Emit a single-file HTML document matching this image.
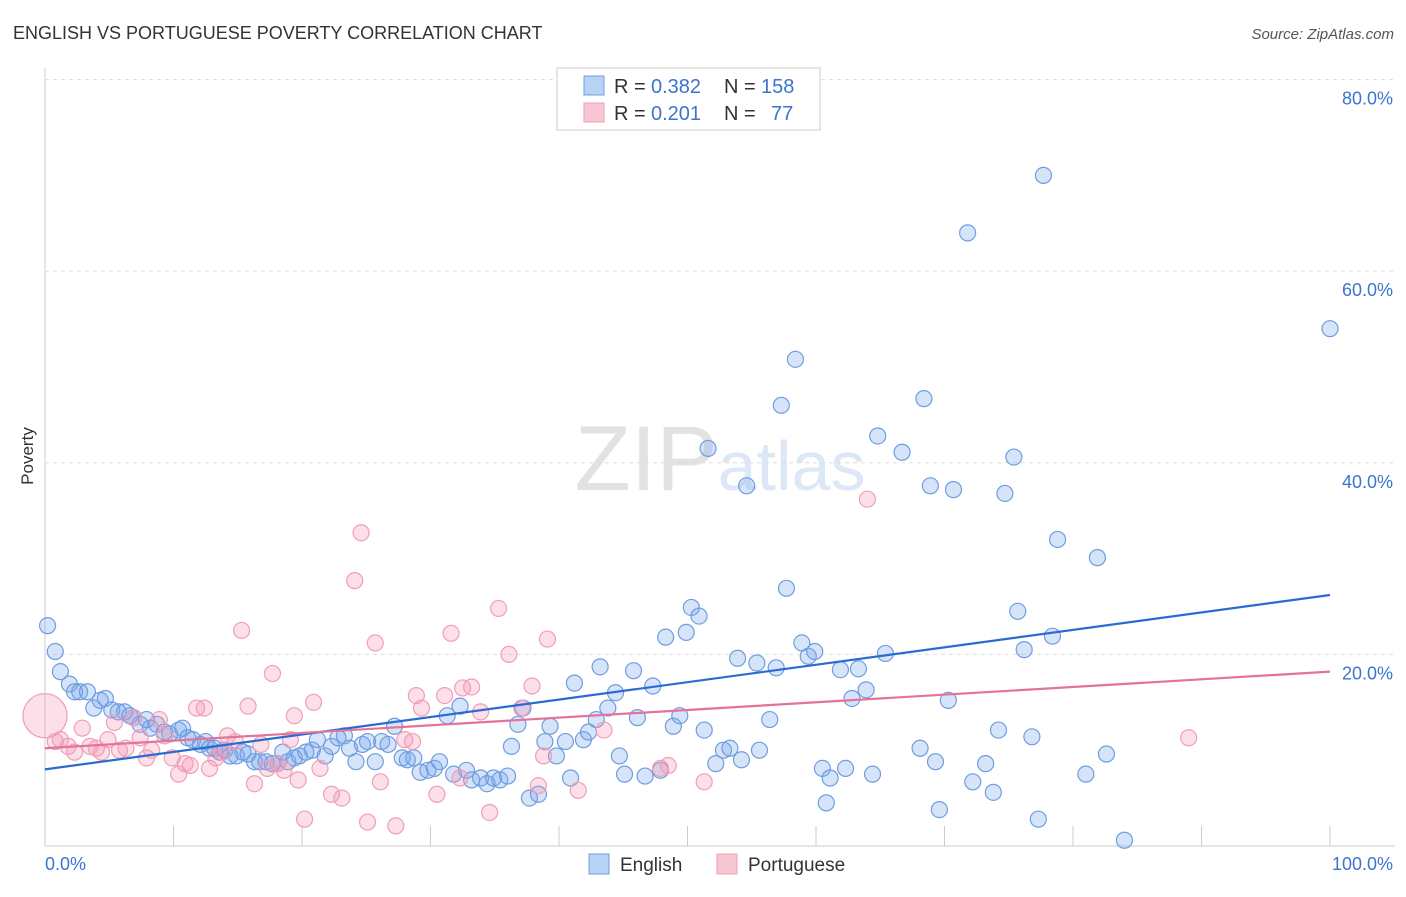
<!DOCTYPE html>
<html><head><meta charset="utf-8"><style>
body{margin:0;background:#fff;font-family:"Liberation Sans",sans-serif;}
svg text{font-family:"Liberation Sans",sans-serif;}
</style></head><body>
<svg id="chart" width="1406" height="892" xmlns="http://www.w3.org/2000/svg">
<text x="13" y="39" font-size="18" fill="#333">ENGLISH VS PORTUGUESE POVERTY CORRELATION CHART</text>
<text x="1394" y="39" font-size="15" fill="#555" text-anchor="end" font-style="italic">Source: ZipAtlas.com</text>
<text x="720" y="490" font-size="92" text-anchor="middle" fill="#e8e8e8" font-family="Liberation Serif"><tspan fill="#e2e2e2">ZIP</tspan><tspan fill="#dce8f6" font-family="Liberation Sans" font-size="70">atlas</tspan></text>
<text transform="translate(33,456) rotate(-90)" font-size="17" fill="#333" text-anchor="middle">Poverty</text>
<g id="grid"></g><g id="xticks"></g><g id="marks"></g><g id="trends"></g>
<g>
<rect x="557" y="68" width="263" height="62" fill="#fff" stroke="#ccc"/>
<rect x="584" y="76" width="20" height="19" fill="#b8d2f4" stroke="#6f9de0"/>
<rect x="584" y="103" width="20" height="19" fill="#f9c6d4" stroke="#ef9fb6"/>
<text x="614" y="93" font-size="20" fill="#333">R =</text>
<text x="651" y="93" font-size="20" fill="#3c74d0">0.382</text>
<text x="724" y="93" font-size="20" fill="#333">N =</text>
<text x="761" y="93" font-size="20" fill="#3c74d0">158</text>
<text x="614" y="120" font-size="20" fill="#333">R =</text>
<text x="651" y="120" font-size="20" fill="#3c74d0">0.201</text>
<text x="724" y="120" font-size="20" fill="#333">N =</text>
<text x="771" y="120" font-size="20" fill="#3c74d0">77</text>
</g>
<g>
<rect x="589" y="854" width="20" height="20" fill="#b8d2f4" stroke="#6f9de0"/>
<text x="620" y="871" font-size="19" fill="#333">English</text>
<rect x="717" y="854" width="20" height="20" fill="#f9c6d4" stroke="#ef9fb6"/>
<text x="748" y="871" font-size="19" fill="#333">Portuguese</text>
</g>
<text x="45" y="870" font-size="18" fill="#3c74d0">0.0%</text>
<text x="1393" y="870" font-size="18" fill="#3c74d0" text-anchor="end">100.0%</text>
</svg>
<script>
const yTicks=[20,40,60,80];
const xTickVals=[0,10,20,30,40,50,60,70,80,90,100];
const englishX=[0.2,0.8,1.2,1.9,2.3,2.7,3.3,3.8,4.3,4.7,5.2,5.7,6.2,6.6,6.9,7.4,7.9,8.2,8.7,9.3,9.7,10.4,10.7,11.1,11.5,12.1,12.5,12.8,13.2,13.6,14.0,14.4,14.9,15.4,15.8,16.3,16.7,17.2,17.7,18.1,18.5,18.9,19.4,19.8,20.3,20.8,21.2,21.8,22.3,22.8,23.3,23.7,24.2,24.7,25.1,25.7,26.2,26.7,27.2,27.8,28.2,28.7,29.2,29.8,30.3,30.7,31.3,31.8,32.3,32.8,33.2,33.9,34.4,34.9,35.4,36.0,36.3,36.8,37.2,37.7,38.4,38.9,39.3,39.8,40.5,40.9,41.2,41.9,42.3,42.9,43.2,43.8,44.4,44.7,45.1,45.8,46.1,46.7,47.3,47.9,48.3,48.9,49.4,49.9,50.3,50.9,51.3,51.6,52.2,52.8,53.3,53.9,54.2,54.6,55.4,55.6,56.4,56.9,57.3,57.7,58.4,58.9,59.4,59.9,60.5,60.8,61.1,61.9,62.3,62.8,63.3,63.9,64.4,64.8,65.4,66.7,68.1,68.4,68.9,69.3,69.6,70.3,70.7,71.8,72.2,73.2,73.8,74.2,74.7,75.4,75.7,76.2,76.8,77.3,77.7,78.4,78.8,81.0,81.9,82.6,84.0,100.0];
const englishY=[23.0,20.3,18.2,16.9,16.1,16.1,16.1,14.4,15.2,15.4,14.2,14.0,14.0,13.6,13.4,12.7,13.2,12.3,12.7,11.9,11.7,12.1,12.3,11.3,11.1,10.6,10.9,10.2,10.2,9.8,10.0,9.4,9.4,9.8,9.6,8.8,8.8,8.8,8.6,8.6,9.8,8.8,9.2,9.4,9.8,10.0,11.1,9.4,10.4,11.3,11.5,10.2,8.8,10.6,10.9,8.8,10.9,10.6,12.5,9.2,9.0,9.2,7.7,7.9,8.1,8.8,13.6,7.5,14.6,7.9,6.9,7.1,6.5,7.1,6.9,7.3,10.4,12.7,14.4,5.0,5.4,10.9,12.5,9.4,10.9,7.1,17.0,11.1,11.9,13.2,18.7,14.4,16.0,9.4,7.5,18.3,13.4,7.3,16.7,7.9,21.8,12.5,13.6,22.3,24.9,24.0,12.1,41.5,8.6,10.0,10.2,19.6,9.0,37.6,19.1,10.0,13.2,18.6,46.0,26.9,50.8,21.2,19.8,20.3,8.1,4.5,7.1,18.4,8.1,15.4,18.5,16.3,7.5,42.8,20.1,41.1,10.2,46.7,37.6,8.8,3.8,15.2,37.2,64.0,6.7,8.6,5.6,12.1,36.8,40.6,24.5,20.5,11.4,2.8,70.0,21.9,32.0,7.5,30.1,9.6,0.6,54.0];
const portX=[0,0.8,1.2,1.8,2.3,2.9,3.5,4.0,4.4,4.9,5.4,5.8,6.3,6.9,7.4,7.9,8.3,8.9,9.3,9.9,10.4,10.9,11.3,11.8,12.4,12.8,13.3,13.8,14.2,14.8,15.3,15.8,16.3,16.8,17.3,17.7,18.1,18.6,19.1,19.4,19.7,20.2,20.9,21.4,22.3,23.1,24.1,24.6,25.1,25.7,26.1,27.3,28.0,28.6,28.9,29.3,30.5,31.1,31.6,32.3,32.5,33.2,33.9,34.6,35.3,36.1,37.1,37.9,38.4,38.8,39.1,41.5,43.5,47.9,48.5,51.3,64.0,89.0];
const portY=[13.6,10.9,11.1,10.4,9.8,12.3,10.4,10.2,9.8,11.1,12.9,10.0,10.2,13.4,11.3,9.2,10.0,13.2,11.5,9.2,7.5,8.6,8.4,14.4,14.4,8.1,9.2,9.8,11.5,10.9,22.5,14.6,6.5,10.6,8.1,18.0,8.6,7.9,11.1,13.6,6.9,2.8,15.0,8.1,5.4,5.0,27.7,32.7,2.5,21.2,6.7,2.1,11.1,10.9,15.7,14.4,5.4,15.7,22.2,7.1,16.5,16.6,14.0,3.5,24.8,20.0,14.4,16.7,6.3,9.4,21.6,5.8,12.1,8.1,8.4,6.7,36.2,11.3];
const englishTrend=[8.0,26.2];
const portTrend=[10.2,18.2];
const NS="http://www.w3.org/2000/svg";
const X0=45,X1=1330,Y0=846,YS=9.58;
function xs(v){return X0+(X1-X0)*v/100;}
function ys(v){return Y0-v*YS;}
function mk(t,a,p){const e=document.createElementNS(NS,t);for(const k in a)e.setAttribute(k,a[k]);p.appendChild(e);return e;}
const grid=document.getElementById('grid');
const ax=mk('line',{x1:45,y1:68,x2:45,y2:846,stroke:'#ccc'},grid);


const bx=mk('line',{x1:45,y1:846,x2:1395,y2:846,stroke:'#ccc'},grid);


yTicks.forEach(v=>{
 const l=mk('line',{x1:45,x2:1395,y1:ys(v),y2:ys(v),stroke:'#ddd','stroke-dasharray':'4,4'},grid);
 
 
 const t=mk('text',{x:1393,y:ys(v)+25,'font-size':18,fill:'#3c74d0','text-anchor':'end'},grid);
 t.textContent=v.toFixed(1)+'%';
 
 
});
const xt=document.getElementById('xticks');
xTickVals.forEach(v=>{
 const l=mk('line',{x1:xs(v),x2:xs(v),y1:826,y2:846,stroke:'#ccc'},xt);
 
 
});
const marks=document.getElementById('marks');
englishX.forEach((v,i)=>{
 const c=mk('circle',{cx:xs(v),cy:ys(englishY[i]),r:8,fill:'rgba(120,165,235,0.3)',stroke:'#6f9de0','stroke-width':1.2},marks);
 
 
});
portX.forEach((v,i)=>{
 const c=mk('circle',{cx:xs(v),cy:ys(portY[i]),r:i===0?22:8,fill:'rgba(245,150,180,0.3)',stroke:'#ef9fb6','stroke-width':1.2},marks);
 
 
});
const tr=document.getElementById('trends');
const t1=mk('line',{x1:xs(0),y1:ys(englishTrend[0]),x2:xs(100),y2:ys(englishTrend[1]),stroke:'#2a6ad4','stroke-width':2.2},tr);


const t2=mk('line',{x1:xs(0),y1:ys(portTrend[0]),x2:xs(100),y2:ys(portTrend[1]),stroke:'#e47399','stroke-width':2.2},tr);


</script>
</body></html>
